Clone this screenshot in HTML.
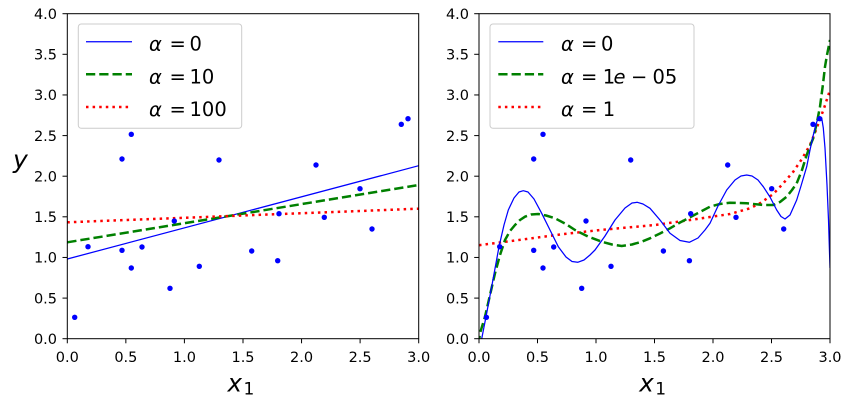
<!DOCTYPE html>
<html><head><meta charset="utf-8"><style>
html,body{margin:0;padding:0;background:#fff;}
svg{display:block;}
text{font-family:"DejaVu Sans","Liberation Sans",sans-serif;fill:#000;}
.tk{font-size:14.5px;}
.it{font-style:italic;}
</style></head><body>
<svg width="853" height="405" viewBox="0 0 853 405" xmlns="http://www.w3.org/2000/svg">
<defs>
<clipPath id="cl"><rect x="67.3" y="13.7" width="351.4" height="325"/></clipPath>
<clipPath id="cr"><rect x="479" y="13.7" width="351" height="325"/></clipPath>
</defs>
<rect width="853" height="405" fill="#fff"/>

<!-- LEFT PLOT -->
<g clip-path="url(#cl)">
<line x1="67.3" y1="259" x2="418.7" y2="165.7" stroke="#0000ff" stroke-width="1.25"/>
<line x1="67.3" y1="242.3" x2="418.7" y2="185" stroke="#008000" stroke-width="2.5" stroke-dasharray="9.25 4"/>
<line x1="67.3" y1="222.3" x2="418.7" y2="208.7" stroke="#ff0000" stroke-width="2.5" stroke-dasharray="2.5 4.1"/>
<g fill="#0000ff">
<circle cx="74.7" cy="317.3" r="2.7"/><circle cx="88" cy="246.7" r="2.7"/><circle cx="122" cy="159" r="2.7"/>
<circle cx="131.3" cy="134.3" r="2.7"/><circle cx="122" cy="250.3" r="2.7"/><circle cx="131.3" cy="268" r="2.7"/>
<circle cx="142" cy="247" r="2.7"/><circle cx="170" cy="288.3" r="2.7"/><circle cx="174.3" cy="221" r="2.7"/>
<circle cx="199.3" cy="266.3" r="2.7"/><circle cx="219" cy="160" r="2.7"/><circle cx="251.7" cy="251" r="2.7"/>
<circle cx="277.7" cy="260.7" r="2.7"/><circle cx="279" cy="213.7" r="2.7"/><circle cx="316" cy="165" r="2.7"/>
<circle cx="324.3" cy="217.3" r="2.7"/><circle cx="360" cy="188.7" r="2.7"/><circle cx="372" cy="229" r="2.7"/>
<circle cx="401.3" cy="124.3" r="2.7"/><circle cx="408" cy="118.7" r="2.7"/>
</g>
</g>
<rect x="67.3" y="13.7" width="351.4" height="325" fill="none" stroke="#000" stroke-width="1"/>
<!-- left ticks -->
<g stroke="#000" stroke-width="1">
<line x1="62.5" y1="338.7" x2="67.3" y2="338.7"/><line x1="62.5" y1="298.1" x2="67.3" y2="298.1"/>
<line x1="62.5" y1="257.45" x2="67.3" y2="257.45"/><line x1="62.5" y1="216.8" x2="67.3" y2="216.8"/>
<line x1="62.5" y1="176.2" x2="67.3" y2="176.2"/><line x1="62.5" y1="135.6" x2="67.3" y2="135.6"/>
<line x1="62.5" y1="94.95" x2="67.3" y2="94.95"/><line x1="62.5" y1="54.3" x2="67.3" y2="54.3"/>
<line x1="62.5" y1="13.7" x2="67.3" y2="13.7"/>
<line x1="67.3" y1="338.7" x2="67.3" y2="343.3"/><line x1="125.85" y1="338.7" x2="125.85" y2="343.3"/>
<line x1="184.4" y1="338.7" x2="184.4" y2="343.3"/><line x1="243" y1="338.7" x2="243" y2="343.3"/>
<line x1="301.55" y1="338.7" x2="301.55" y2="343.3"/><line x1="360.1" y1="338.7" x2="360.1" y2="343.3"/>
<line x1="418.7" y1="338.7" x2="418.7" y2="343.3"/>
</g>
<g class="tk" text-anchor="end">
<text x="57" y="344">0.0</text><text x="57" y="303.4">0.5</text><text x="57" y="262.7">1.0</text>
<text x="57" y="222.1">1.5</text><text x="57" y="181.5">2.0</text><text x="57" y="140.9">2.5</text>
<text x="57" y="100.2">3.0</text><text x="57" y="59.6">3.5</text><text x="57" y="19">4.0</text>
</g>
<g class="tk" text-anchor="middle">
<text x="67.3" y="362">0.0</text><text x="125.85" y="362">0.5</text><text x="184.4" y="362">1.0</text>
<text x="243" y="362">1.5</text><text x="301.55" y="362">2.0</text><text x="360.1" y="362">2.5</text>
<text x="418.7" y="362">3.0</text>
</g>
<text x="227.5" y="391.7" font-size="24.5" class="it">x</text>
<text x="243.5" y="394.3" font-size="17">1</text>
<text x="13" y="168" font-size="25" class="it">y</text>

<!-- left legend -->
<rect x="78.3" y="24" width="163.4" height="104.3" rx="3" fill="#fff" fill-opacity="0.8" stroke="#cccccc" stroke-width="1"/>
<line x1="86" y1="41.7" x2="132" y2="41.7" stroke="#0000ff" stroke-width="1.25"/>
<line x1="86" y1="74.3" x2="132" y2="74.3" stroke="#008000" stroke-width="2.5" stroke-dasharray="9.25 4"/>
<line x1="86" y1="107" x2="132" y2="107" stroke="#ff0000" stroke-width="2.5" stroke-dasharray="2.5 4.1"/>
<g font-size="19.5">
<text x="149" y="50.7" class="it">α</text><text x="169.5" y="50.7">=</text><text x="189.5" y="50.7">0</text>
<text x="149" y="83.4" class="it">α</text><text x="169.5" y="83.4">=</text><text x="189.5" y="83.4">10</text>
<text x="149" y="116.1" class="it">α</text><text x="169.5" y="116.1">=</text><text x="189.5" y="116.1">100</text>
</g>

<!-- RIGHT PLOT -->
<g clip-path="url(#cr)">
<polyline fill="none" stroke="#ff0000" stroke-width="2.5" stroke-dasharray="2.5 4.1" points="479,245.2 500,242.5 530,238.5 560,234.5 600,230 655,225 690,220 730,214 750,208.3 760,203.3 773.3,194 783.3,183.3 793.3,171.7 801.7,159.3 810,145 816,130 824,108.3 830,90"/>
<polyline fill="none" stroke="#008000" stroke-width="2.5" stroke-dasharray="9.25 4" stroke-linejoin="round" points="478.5,345 480,333.3 485,316.7 490,295 495,273.3 500,255 505,240 510,231 515,225 520,220 525,216.7 531,214.5 538.3,214 546,215.5 555,218.3 565,223.5 575,230 588,236.5 601.7,241.7 612,244.5 621.7,246 632,244.5 641.7,241.7 650,238.3 660,233.5 670,228.3 680,222.5 690,217.3 700,212 710,206.7 720,204 730,202.7 746.7,203.3 763.3,205 773.3,205 780,202 786.7,196.7 792,190 796.7,183.3 802,170 806.7,155 810,146 813.3,138 817,122 820,106.7 823,84 825,66.7 827,55 830,40"/>
<polyline fill="none" stroke="#0000ff" stroke-width="1.25" stroke-linejoin="round" points="480.8,345 481.7,338.7 486,316.7 492,285 499,246.7 504,225 508.3,210 514,198 519,192 523.3,190.7 528,192 534,199 541.7,213.3 550,230 558.3,246.7 566,257 572,261.5 577.7,262.3 584,260 590,255 595,250 605,236 615,220 625,208 632,203 637.3,202.3 643,204 650,208.3 660,220 670,233.3 680,240.5 689.3,242.3 698,238 705,230 710,223.3 718,206 726.7,190 735,180 741,176 746.7,175 752,176 758,180 763.3,186.7 770,197 776.7,210 781,216.5 785,219 790,215 796.7,200 801,186 806.7,166.7 810,150 813.3,135 816.7,122 819,117 821.7,118 823.3,128 825,148 827,185 828.5,220 830,268"/>
<g fill="#0000ff">
<circle cx="486.4" cy="317.3" r="2.7"/><circle cx="499.7" cy="246.7" r="2.7"/><circle cx="533.7" cy="159" r="2.7"/>
<circle cx="543" cy="134.3" r="2.7"/><circle cx="533.7" cy="250.3" r="2.7"/><circle cx="543" cy="268" r="2.7"/>
<circle cx="553.7" cy="247" r="2.7"/><circle cx="581.7" cy="288.3" r="2.7"/><circle cx="586" cy="221" r="2.7"/>
<circle cx="611" cy="266.3" r="2.7"/><circle cx="630.7" cy="160" r="2.7"/><circle cx="663.4" cy="251" r="2.7"/>
<circle cx="689.4" cy="260.7" r="2.7"/><circle cx="690.7" cy="213.7" r="2.7"/><circle cx="727.7" cy="165" r="2.7"/>
<circle cx="736" cy="217.3" r="2.7"/><circle cx="771.7" cy="188.7" r="2.7"/><circle cx="783.7" cy="229" r="2.7"/>
<circle cx="813" cy="124.3" r="2.7"/><circle cx="819.7" cy="118.7" r="2.7"/>
</g>
</g>
<rect x="479" y="13.7" width="351" height="325" fill="none" stroke="#000" stroke-width="1"/>
<g stroke="#000" stroke-width="1">
<line x1="474.2" y1="338.7" x2="479" y2="338.7"/><line x1="474.2" y1="298.1" x2="479" y2="298.1"/>
<line x1="474.2" y1="257.45" x2="479" y2="257.45"/><line x1="474.2" y1="216.8" x2="479" y2="216.8"/>
<line x1="474.2" y1="176.2" x2="479" y2="176.2"/><line x1="474.2" y1="135.6" x2="479" y2="135.6"/>
<line x1="474.2" y1="94.95" x2="479" y2="94.95"/><line x1="474.2" y1="54.3" x2="479" y2="54.3"/>
<line x1="474.2" y1="13.7" x2="479" y2="13.7"/>
<line x1="479" y1="338.7" x2="479" y2="343.3"/><line x1="537.5" y1="338.7" x2="537.5" y2="343.3"/>
<line x1="596" y1="338.7" x2="596" y2="343.3"/><line x1="654.5" y1="338.7" x2="654.5" y2="343.3"/>
<line x1="713" y1="338.7" x2="713" y2="343.3"/><line x1="771.5" y1="338.7" x2="771.5" y2="343.3"/>
<line x1="830" y1="338.7" x2="830" y2="343.3"/>
</g>
<g class="tk" text-anchor="end">
<text x="469" y="344">0.0</text><text x="469" y="303.4">0.5</text><text x="469" y="262.7">1.0</text>
<text x="469" y="222.1">1.5</text><text x="469" y="181.5">2.0</text><text x="469" y="140.9">2.5</text>
<text x="469" y="100.2">3.0</text><text x="469" y="59.6">3.5</text><text x="469" y="19">4.0</text>
</g>
<g class="tk" text-anchor="middle">
<text x="479" y="362">0.0</text><text x="537.5" y="362">0.5</text><text x="596" y="362">1.0</text>
<text x="654.5" y="362">1.5</text><text x="713" y="362">2.0</text><text x="771.5" y="362">2.5</text>
<text x="830" y="362">3.0</text>
</g>
<text x="639.2" y="391.7" font-size="24.5" class="it">x</text>
<text x="655.2" y="394.3" font-size="17">1</text>

<!-- right legend -->
<rect x="490" y="24" width="204" height="104.3" rx="3" fill="#fff" fill-opacity="0.8" stroke="#cccccc" stroke-width="1"/>
<line x1="498.3" y1="41.7" x2="543.3" y2="41.7" stroke="#0000ff" stroke-width="1.25"/>
<line x1="498.3" y1="74.3" x2="543.3" y2="74.3" stroke="#008000" stroke-width="2.5" stroke-dasharray="9.25 4"/>
<line x1="498.3" y1="107" x2="543.3" y2="107" stroke="#ff0000" stroke-width="2.5" stroke-dasharray="2.5 4.1"/>
<g font-size="19.5">
<text x="561" y="50.7" class="it">α</text><text x="581" y="50.7">=</text><text x="601" y="50.7">0</text>
<text x="561" y="83.4" class="it">α</text><text x="581" y="83.4">=</text><text x="602.8" y="83.4">1</text><text x="613.5" y="83.4" class="it">e</text><text x="631" y="83.4">−</text><text x="652.5" y="83.4">05</text>
<text x="561" y="116.1" class="it">α</text><text x="581" y="116.1">=</text><text x="602.8" y="116.1">1</text>
</g>
</svg>
</body></html>
